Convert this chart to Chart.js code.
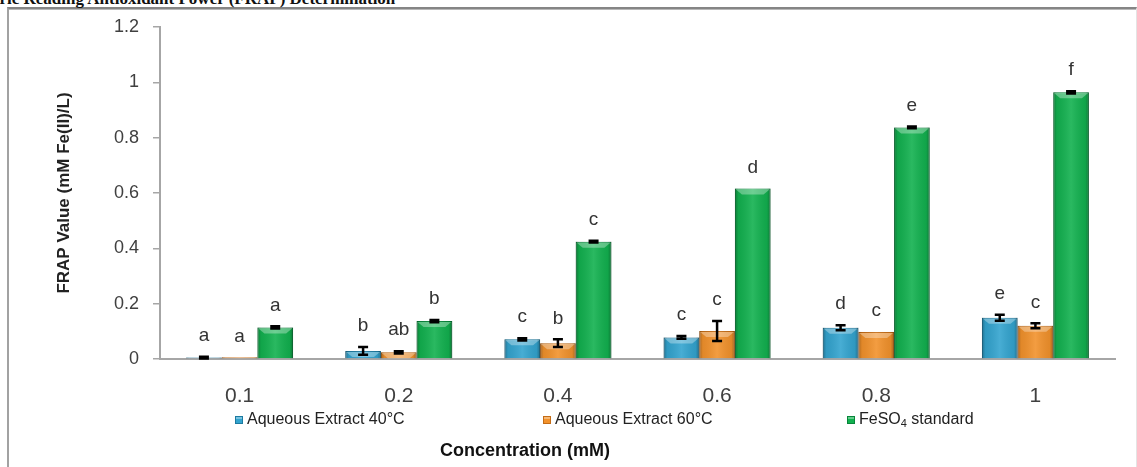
<!DOCTYPE html>
<html>
<head>
<meta charset="utf-8">
<script src="https://cdn.jsdelivr.net/npm/chart.js@4.4.1/dist/chart.umd.min.js"></script>
<style>
  html, body { margin: 0; padding: 0; background: #fff; width: 1137px; height: 467px; overflow: hidden; }
  .frame {
    position: absolute; left: 7px; top: 7px; width: 1127px; height: 480px;
    border-top: 2px solid #858585; border-left: 2px solid #a2a2a2; border-right: 1px solid #e4e4e4;
    box-shadow: inset 0 1px 0 #b8b8b8;
  }
  .heading {
    position: absolute; left: -26px; top: -11px; line-height: 17px;
    font: bold 17px "Liberation Serif", "DejaVu Serif", serif; color: #111; white-space: nowrap;
  }
  canvas { position: absolute; left: 0; top: 0; }
</style>
</head>
<body>
<div class="frame"></div>
<div class="heading">Ferric Reading Antioxidant Power (FRAP) Determination</div>
<canvas id="frap" width="1137" height="467"></canvas>
<script>
// Concentrations on the x axis
const categories = ['0.1', '0.2', '0.4', '0.6', '0.8', '1'];

// FRAP values (mM Fe(II)/L) and their error margins
const extract40    = [0.005, 0.029, 0.071, 0.078, 0.113, 0.149];
const extract40Err = [0.003, 0.014, 0.004, 0.005, 0.009, 0.011];
const extract60    = [0.006, 0.024, 0.057, 0.101, 0.098, 0.120];
const extract60Err = [0.000, 0.004, 0.014, 0.036, 0.000, 0.009];
const feso4        = [0.114, 0.137, 0.424, 0.616, 0.837, 0.964];
const feso4Err     = [0.004, 0.004, 0.003, 0.000, 0.003, 0.004];

// Significance letters above each bar
const letters40 = ['a', 'b', 'c', 'c', 'd', 'e'];
const letters60 = ['a', 'ab', 'b', 'c', 'c', 'c'];
const lettersFe = ['a', 'b', 'c', 'd', 'e', 'f'];

// Series names and y tick labels
const seriesNames = ['Aqueous Extract 40°C', 'Aqueous Extract 60°C', 'FeSO₄ standard'];
const yTickLabels = ['0', '0.2', '0.4', '0.6', '0.8', '1', '1.2'];

const SANS = '"Liberation Sans", Arial, sans-serif';
const palette = [
  { fill: '#33a4cf', edge: '#1c7aa0' },
  { fill: '#f2922c', edge: '#c46c16' },
  { fill: '#12b14f', edge: '#07853a' }
];

// Shading, error bars and letters drawn on top of the bars
const barDecor = {
  id: 'barDecor',
  afterDatasetsDraw(chart) {
    const { ctx, scales: { y: yScale } } = chart;
    chart.data.datasets.forEach((ds, di) => {
      const meta = chart.getDatasetMeta(di);
      meta.data.forEach((bar, i) => {
        const { x, y, base, width } = bar.getProps(['x', 'y', 'base', 'width'], true);
        const l = x - width / 2, r = x + width / 2, h = base - y;
        ctx.save();
        // rounded-bevel look: darker sides, lighter middle
        const g = ctx.createLinearGradient(l, 0, r, 0);
        g.addColorStop(0, 'rgba(0,0,0,0.30)');
        g.addColorStop(0.1, 'rgba(0,0,0,0.07)');
        g.addColorStop(0.5, 'rgba(255,255,255,0.10)');
        g.addColorStop(0.9, 'rgba(0,0,0,0.07)');
        g.addColorStop(1, 'rgba(0,0,0,0.32)');
        ctx.fillStyle = g;
        ctx.fillRect(l, y, width, h);
        // lighter top bevel
        const bh = Math.min(6, h);
        if (bh > 1) {
          ctx.beginPath();
          ctx.moveTo(l + 1, y + 1);
          ctx.lineTo(r - 1, y + 1);
          ctx.lineTo(r - 1 - bh, y + bh);
          ctx.lineTo(l + 1 + bh, y + bh);
          ctx.closePath();
          ctx.fillStyle = 'rgba(255,255,255,0.32)';
          ctx.fill();
        }
        // error bar
        const v = ds.data[i], e = ds.errors[i];
        if (e > 0) {
          const yt = yScale.getPixelForValue(v + e);
          const yb = yScale.getPixelForValue(v - e);
          ctx.strokeStyle = '#000';
          ctx.lineWidth = 2.5;
          ctx.beginPath();
          ctx.moveTo(x, yt); ctx.lineTo(x, yb);
          ctx.moveTo(x - 5, yt); ctx.lineTo(x + 5, yt);
          ctx.moveTo(x - 5, yb); ctx.lineTo(x + 5, yb);
          ctx.stroke();
        }
        // letter
        const top = yScale.getPixelForValue(v + e);
        ctx.fillStyle = '#333';
        ctx.font = '19px ' + SANS;
        ctx.textAlign = 'center';
        ctx.textBaseline = 'middle';
        ctx.fillText(ds.letters[i], x, top - 21);
        ctx.restore();
      });
    });
  }
};

// Legend row and x axis caption
const bottomText = {
  id: 'bottomText',
  afterDraw(chart, args, opts) {
    const { ctx } = chart;
    ctx.save();
    chart.data.datasets.forEach((ds, di) => {
      const bx = opts.legendX[di], cy = opts.legendY;
      ctx.fillStyle = ds.backgroundColor;
      ctx.fillRect(bx, cy - 4, 8, 8);
      ctx.strokeStyle = ds.borderColor;
      ctx.lineWidth = 1;
      ctx.strokeRect(bx + 0.5, cy - 3.5, 7, 7);
      ctx.fillStyle = 'rgba(255,255,255,0.35)';
      ctx.fillRect(bx + 1, cy - 3, 6, 2);
      ctx.fillStyle = '#222';
      ctx.font = '16px ' + SANS;
      ctx.textAlign = 'left';
      ctx.textBaseline = 'middle';
      let tx = bx + 12;
      const parts = ds.label.split('₄');
      ctx.fillText(parts[0], tx, cy);
      if (parts.length > 1) {
        tx += ctx.measureText(parts[0]).width;
        ctx.font = '11px ' + SANS;
        ctx.fillText('4', tx, cy + 4);
        tx += ctx.measureText('4').width;
        ctx.font = '16px ' + SANS;
        ctx.fillText(parts[1], tx, cy);
      }
    });
    ctx.fillStyle = '#111';
    ctx.font = 'bold 18px ' + SANS;
    ctx.textAlign = 'center';
    ctx.textBaseline = 'middle';
    ctx.fillText(opts.caption, opts.captionX, opts.captionY);
    ctx.restore();
  }
};

const makeSet = (i, data, errors, letters) => ({
  label: seriesNames[i],
  data, errors, letters,
  backgroundColor: palette[i].fill,
  borderColor: palette[i].edge,
  borderWidth: 1,
  borderSkipped: 'bottom',
  categoryPercentage: 0.672,
  barPercentage: 1.0
});

new Chart(document.getElementById('frap'), {
  type: 'bar',
  data: {
    labels: categories,
    datasets: [
      makeSet(0, extract40, extract40Err, letters40),
      makeSet(1, extract60, extract60Err, letters60),
      makeSet(2, feso4, feso4Err, lettersFe)
    ]
  },
  plugins: [barDecor, bottomText],
  options: {
    responsive: false,
    animation: false,
    devicePixelRatio: 1,
    layout: { padding: { top: 27, right: 22, left: 0, bottom: 0 } },
    plugins: {
      legend: { display: false },
      tooltip: { enabled: false },
      bottomText: {
        legendX: [235, 543, 847],
        legendY: 420,
        caption: 'Concentration (mM)',
        captionX: 525,
        captionY: 451
      }
    },
    scales: {
      x: {
        afterFit(s) { s.height = 108; },
        grid: { display: false },
        border: { display: true, color: '#a6a6a6', width: 2 },
        ticks: { color: '#404040', font: { family: SANS, size: 21 }, padding: 17, maxRotation: 0 }
      },
      y: {
        min: 0, max: 1.2,
        afterFit(s) { s.width = 160; },
        grid: { drawOnChartArea: false, drawTicks: true, tickLength: 7, color: '#a6a6a6', lineWidth: 1.5 },
        border: { display: true, color: '#a6a6a6', width: 2 },
        ticks: {
          stepSize: 0.2,
          color: '#404040',
          font: { family: SANS, size: 18 },
          padding: 14,
          callback: (v, i) => yTickLabels[i]
        },
        title: {
          display: true,
          text: 'FRAP Value (mM Fe(II)/L)',
          color: '#222',
          font: { family: SANS, size: 17, weight: 'bold' },
          padding: { top: 54, bottom: 0 }
        }
      }
    }
  }
});
</script>
</body>
</html>
